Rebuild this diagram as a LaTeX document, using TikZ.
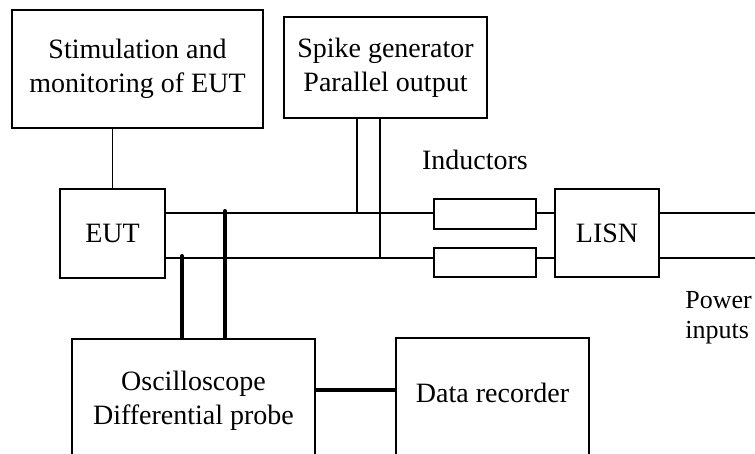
\documentclass[tikz,border=0pt]{standalone}
\usepackage{fontspec}
\setmainfont{Liberation Serif}
\tikzset{
  box/.style={draw, line width=1.2pt, inner sep=0pt, minimum width=#1},
  ind/.style={draw, line width=0.8pt, inner sep=0pt, minimum width=51pt},
  wire/.style={line width=0.7pt},
  probe/.style={line width=2pt, line cap=round},
  txt/.style={align=center, inner sep=0pt}
}
\begin{document}
\begin{tikzpicture}[x={(0.5pt,0pt)}, y={(0pt,-0.5pt)}, font=\fontsize{14}{17}\selectfont]
\useasboundingbox (0,0) rectangle (755,454);
\clip (0,0) rectangle (755,454);
% boxes
\node[box=125.5pt, minimum height=59pt, txt] (stim) at (137.5,69) {Stimulation and\\monitoring of EUT};
\node[box=101.5pt, minimum height=50.5pt, txt] (spike) at (385.5,67.5) {Spike generator\\Parallel output};
\node[box=52.5pt, minimum height=44.5pt] (eut) at (112.5,233.5) {EUT};
\node[box=52pt, minimum height=44pt] (lisn) at (607,233) {LISN};
\node[ind, minimum height=15pt] (indA) at (485,214) {};
\node[ind, minimum height=14.5pt] (indB) at (485,262.5) {};
\node[box=121.5pt, minimum height=70.5pt] (osc) at (193.5,409.5) {};
\node[box=96.5pt, minimum height=70.5pt] (data) at (492.5,408.5) {};
% texts
\node[txt] (osct) at (193.5,401) {Oscilloscope\\Differential probe};
\node[txt] (datat) at (492.5,393) {Data recorder};
\node[txt] (indt) at (475,160) {Inductors};
\node[txt, anchor=west, font=\fontsize{13}{17}\selectfont] (pw) at (685,300) {Power};
\node[txt, anchor=west, font=\fontsize{13}{17}\selectfont] (inp) at (685,333) {inputs};
% wire coordinates
\coordinate (wA) at (0,213);
\coordinate (wB) at (0,258);
\coordinate (rA) at (760,213);
\coordinate (rB) at (760,258);
\coordinate (sA) at (357,0);
\coordinate (sB) at (380,0);
\coordinate (pA) at (225,0);
\coordinate (pB) at (182,0);
% connectors
\draw[wire] (eut.north) -- (eut.north |- stim.south);
\draw[wire] (eut.east |- wA) -- (indA.west |- wA);
\draw[wire] (eut.east |- wB) -- (indB.west |- wB);
\draw[wire] (indA.east |- wA) -- (lisn.west |- wA);
\draw[wire] (indB.east |- wB) -- (lisn.west |- wB);
\draw[wire] (lisn.east |- wA) -- (rA);
\draw[wire] (lisn.east |- wB) -- (rB);
\draw[wire] (spike.south -| sA) -- (sA |- wA);
\draw[wire] (spike.south -| sB) -- (sB |- wB);
\draw[probe] ([yshift=1pt]pA |- wA) -- (pA |- osc.north);
\draw[probe] ([yshift=1pt]pB |- wB) -- (pB |- osc.north);
\draw[probe, line cap=butt] (osc.east |- 0,390) -- (data.west |- 0,390);
\end{tikzpicture}
\end{document}
